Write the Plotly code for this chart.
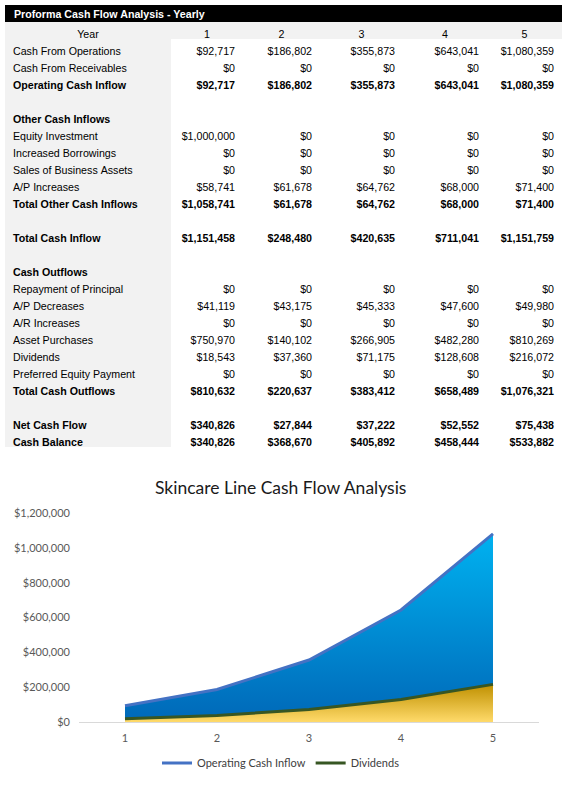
import plotly.graph_objects as go

W, H = 573, 786

years = [1, 2, 3, 4, 5]
year_labels = ["1", "2", "3", "4", "5"]

cash_from_operations = [92717, 186802, 355873, 643041, 1080359]
cash_from_receivables = [0, 0, 0, 0, 0]
operating_cash_inflow = [92717, 186802, 355873, 643041, 1080359]
equity_investment = [1000000, 0, 0, 0, 0]
increased_borrowings = [0, 0, 0, 0, 0]
sales_of_business_assets = [0, 0, 0, 0, 0]
ap_increases = [58741, 61678, 64762, 68000, 71400]
total_other_cash_inflows = [1058741, 61678, 64762, 68000, 71400]
total_cash_inflow = [1151458, 248480, 420635, 711041, 1151759]
repayment_of_principal = [0, 0, 0, 0, 0]
ap_decreases = [41119, 43175, 45333, 47600, 49980]
ar_increases = [0, 0, 0, 0, 0]
asset_purchases = [750970, 140102, 266905, 482280, 810269]
dividends = [18543, 37360, 71175, 128608, 216072]
preferred_equity_payment = [0, 0, 0, 0, 0]
total_cash_outflows = [810632, 220637, 383412, 658489, 1076321]
net_cash_flow = [340826, 27844, 37222, 52552, 75438]
cash_balance = [340826, 368670, 405892, 458444, 533882]

# (label, values, bold) ; None = blank row / section title
rows = [
    ("Cash From Operations", cash_from_operations, False),
    ("Cash From Receivables", cash_from_receivables, False),
    ("Operating Cash Inflow", operating_cash_inflow, True),
    ("", None, False),
    ("Other Cash Inflows", None, True),
    ("Equity Investment", equity_investment, False),
    ("Increased Borrowings", increased_borrowings, False),
    ("Sales of Business Assets", sales_of_business_assets, False),
    ("A/P Increases", ap_increases, False),
    ("Total Other Cash Inflows", total_other_cash_inflows, True),
    ("", None, False),
    ("Total Cash Inflow", total_cash_inflow, True),
    ("", None, False),
    ("Cash Outflows", None, True),
    ("Repayment of Principal", repayment_of_principal, False),
    ("A/P Decreases", ap_decreases, False),
    ("A/R Increases", ar_increases, False),
    ("Asset Purchases", asset_purchases, False),
    ("Dividends", dividends, False),
    ("Preferred Equity Payment", preferred_equity_payment, False),
    ("Total Cash Outflows", total_cash_outflows, True),
    ("", None, False),
    ("Net Cash Flow", net_cash_flow, True),
    ("Cash Balance", cash_balance, True),
]

NB = "\u00a0"  # non-breaking space, keeps plotly's table from wrapping rows


def txt(s):
    return s.replace(" ", NB) if s else NB


def table_columns(want_bold):
    # only the rows of one weight; the others stay blank
    cols = [[txt(lab) if bold == want_bold else NB for lab, _, bold in rows]]
    for i in range(5):
        cols.append([txt(f"${vals[i]:,.0f}") if vals and bold == want_bold else NB
                     for _, vals, bold in rows])
    return cols


px = lambda x: x / W
py = lambda y: 1 - y / H

fig = go.Figure()

table_domain = dict(x=[px(5), px(562)], y=[py(448), py(22)])
col_widths = [166, 72, 77, 83, 84, 75]
tfont = "Liberation Sans, Arial"
clear = "rgba(0,0,0,0)"

# backgrounds + year header
fig.add_trace(go.Table(
    domain=table_domain,
    columnwidth=col_widths,
    header=dict(
        values=["Year"] + year_labels,
        fill_color="#F2F2F2",
        line=dict(width=0, color="#F2F2F2"),
        align="center", height=17,
        font=dict(family=tfont, size=10.67, color="black"),
    ),
    cells=dict(
        values=[[NB] * len(rows)] * 6,
        fill_color=["#F2F2F2"] + ["white"] * 5,
        line=dict(width=0, color="white"),
        height=17,
        font=dict(family=tfont, size=10.67),
    ),
))
# text layers on top (transparent so descenders are not covered)
for want_bold in (False, True):
    fig.add_trace(go.Table(
        domain=table_domain,
        columnwidth=col_widths,
        header=dict(
            values=[NB] * 6,
            fill_color=clear, line=dict(width=0, color=clear), height=17,
            font=dict(family=tfont, size=10.67),
        ),
        cells=dict(
            values=table_columns(want_bold),
            fill_color=clear, line=dict(width=0, color=clear),
            align=["left"] + ["right"] * 5, height=17,
            font=dict(family=tfont, size=10.67, color="black",
                      weight="bold" if want_bold else "normal"),
        ),
    ))

# chart
fig.add_trace(go.Scatter(
    x=years, y=operating_cash_inflow, mode="lines", fill="tozeroy",
    line=dict(color="#4472C4", width=3),
    fillgradient=dict(type="vertical", colorscale=[[0, "#0068B8"], [1, "#00B2F0"]],
                      start=0, stop=max(operating_cash_inflow)),
    showlegend=False, hoverinfo="skip",
))
fig.add_trace(go.Scatter(
    x=years, y=dividends, mode="lines", fill="tozeroy",
    line=dict(color="#375623", width=3),
    fillgradient=dict(type="vertical", colorscale=[[0, "#FFDA6A"], [1, "#BF9000"]],
                      start=0, stop=max(dividends)),
    showlegend=False, hoverinfo="skip",
))
# legend entries (lines only, like Excel)
fig.add_trace(go.Scatter(x=[None], y=[None], mode="lines", name="Operating Cash Inflow",
                         line=dict(color="#4472C4", width=3)))
fig.add_trace(go.Scatter(x=[None], y=[None], mode="lines", name="Dividends",
                         line=dict(color="#375623", width=3)))

fig.update_xaxes(
    domain=[px(79), px(539)], range=[0.5, 5.5],
    tickvals=years, ticktext=year_labels,
    showgrid=False, zeroline=False, showline=True, linecolor="#D9D9D9", linewidth=1,
    tickfont=dict(family="Lato", size=11, color="#595959"),
    ticklabelstandoff=6, automargin=False,
)
fig.update_yaxes(
    domain=[py(722), py(513)], range=[0, 1200000], dtick=200000,
    tickprefix="$", tickformat=",.0f",
    showgrid=False, zeroline=False,
    tickfont=dict(family="Lato", size=11, color="#595959"),
    ticklabelstandoff=8, automargin=False,
)

# title bar of the table
fig.add_shape(type="rect", xref="paper", yref="paper",
              x0=px(5), x1=px(562), y0=py(22), y1=py(5),
              fillcolor="black", line_width=0, layer="above")

fig.update_layout(
    width=W, height=H,
    margin=dict(l=0, r=0, t=0, b=0, autoexpand=False),
    paper_bgcolor="white", plot_bgcolor="white",
    annotations=[
        dict(text="<b>Proforma Cash Flow Analysis - Yearly</b>", xref="paper", yref="paper",
             x=px(12), y=py(14), xanchor="left", yanchor="middle", showarrow=False,
             font=dict(family=tfont, size=10.67, color="white")),
        dict(text="Skincare Line Cash Flow Analysis", xref="paper", yref="paper",
             x=px(280), y=py(487), xanchor="center", yanchor="middle", showarrow=False,
             font=dict(family="Lato", size=17.5, color="#1a1a1a")),
    ],
    legend=dict(orientation="h", x=px(281), xanchor="center", y=py(763), yanchor="middle",
                font=dict(family="Lato", size=11, color="#404040")),
)

fig.write_html("out.html", config={"displayModeBar": False},
               post_script="document.body.style.margin='0';document.body.style.overflow='hidden';")
